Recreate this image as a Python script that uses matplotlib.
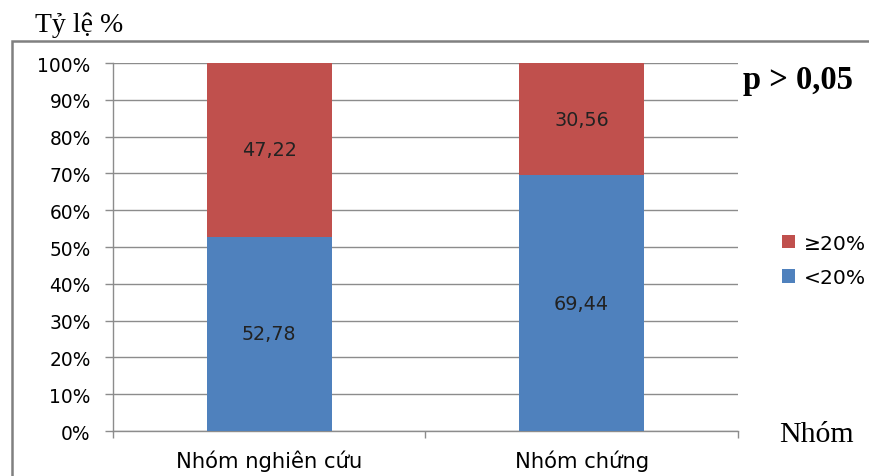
import matplotlib.pyplot as plt
from matplotlib.patches import Rectangle
import numpy as np

groups = ['Nhóm nghiên cứu', 'Nhóm chứng']
below20 = [52.78, 69.44]
above20 = [47.22, 30.56]
yticks = [0, 10, 20, 30, 40, 50, 60, 70, 80, 90, 100]

blue = '#4F81BD'
red = '#C0504D'
grid_c = '#8C8C8C'

fig = plt.figure(figsize=(8.69, 4.77), dpi=100)
ax = fig.add_axes([0.130, 0.0943, 0.719, 0.7715])

x = np.arange(len(groups))
ax.bar(x, below20, 0.4, color=blue, label='<20%', zorder=3)
ax.bar(x, above20, 0.4, bottom=below20, color=red, label='≥20%', zorder=3)

for i in range(len(groups)):
    ax.text(x[i], below20[i] / 2, f'{below20[i]:.2f}'.replace('.', ','),
            ha='center', va='center', fontsize=13.8, color='#222222', zorder=4)
    ax.text(x[i], below20[i] + above20[i] / 2, f'{above20[i]:.2f}'.replace('.', ','),
            ha='center', va='center', fontsize=13.8, color='#222222', zorder=4)

ax.set_xlim(-0.5, 1.5)
ax.set_ylim(0, 100)
ax.set_yticks(yticks)
ax.set_yticklabels([f'{v}%' for v in yticks], fontsize=13.4)
ax.set_xticks(x)
ax.set_xticklabels(groups, fontsize=15.2)
ax.set_xticks([-0.5, 0.5, 1.5], minor=True)
ax.tick_params(axis='x', which='major', length=0, pad=13)
ax.tick_params(axis='x', which='minor', length=5, color=grid_c, width=1)
ax.tick_params(axis='y', length=6, color=grid_c, width=1, pad=10)

ax.yaxis.grid(True, color=grid_c, linewidth=1, zorder=0)
ax.set_axisbelow(True)
for s in ['top', 'right']:
    ax.spines[s].set_visible(False)
for s in ['left', 'bottom']:
    ax.spines[s].set_color(grid_c)
    ax.spines[s].set_linewidth(1)

h, l = ax.get_legend_handles_labels()
leg = fig.legend(h[::-1], l[::-1], loc='center', bbox_to_anchor=(0.948, 0.452),
                 frameon=False, fontsize=14.6, handlelength=0.65, handleheight=0.65,
                 labelspacing=0.75, handletextpad=0.45)

# khung viền ngoài
fig.patches.append(Rectangle((12 / 869, -0.1), 1.2, 1.1 - 42 / 477, transform=fig.transFigure,
                             fill=False, edgecolor='#808080', linewidth=1.8))

fig.text(35 / 869, 1 - 25 / 477, 'Tỷ lệ %', family='Liberation Serif', fontsize=20,
         ha='left', va='center')
fig.text(743 / 869, 1 - 80 / 477, 'p > 0,05', family='Liberation Serif', fontsize=23.5,
         fontweight='bold', ha='left', va='center')
fig.text(779 / 869, 1 - 435 / 477, 'Nhóm', family='Liberation Serif', fontsize=21.5,
         ha='left', va='center')

fig.savefig('out.png', dpi=100)
